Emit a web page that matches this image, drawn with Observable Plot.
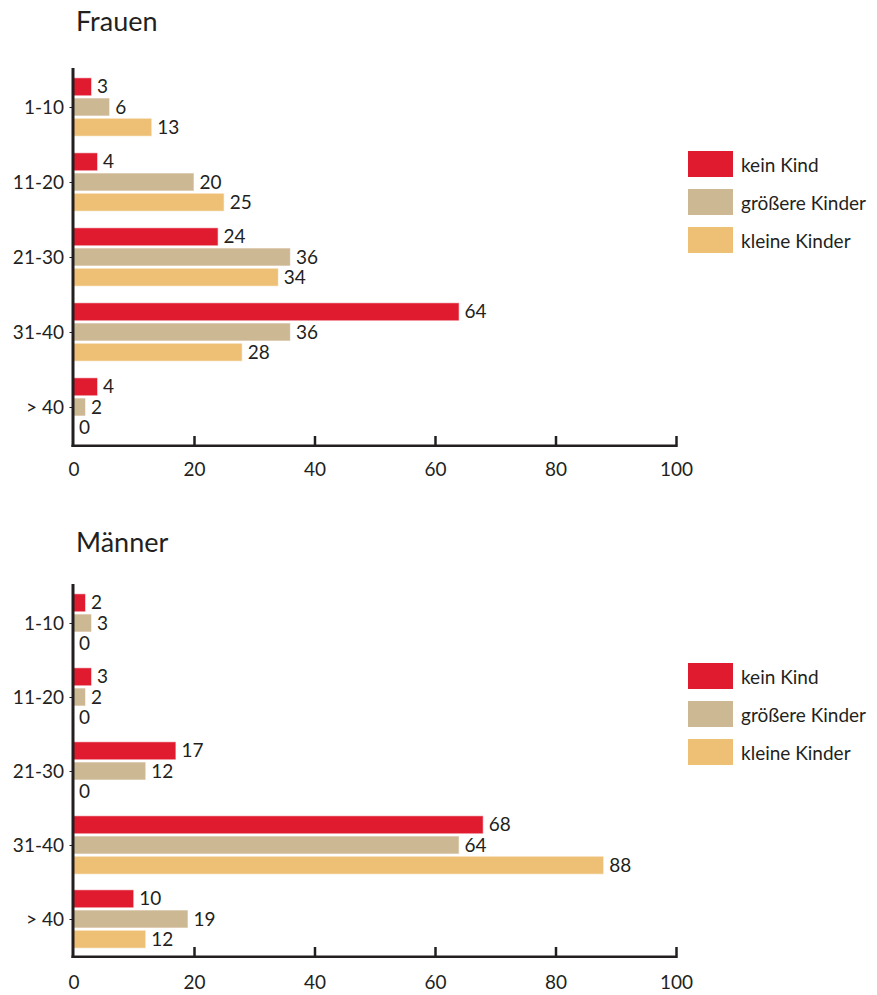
<!DOCTYPE html>
<html>
<head>
<meta charset="utf-8">
<script src="https://cdn.jsdelivr.net/npm/d3@7"></script>
<script src="https://cdn.jsdelivr.net/npm/@observablehq/plot@0.6"></script>
<style>
  body { margin: 0; background: #fff; font-family: Lato, "Open Sans", sans-serif; color: #231f20; }
  #page { position: relative; width: 877px; height: 995px; overflow: hidden; }
  .panel { position: absolute; left: 0; width: 877px; }
  .panel svg { display: block; }
  .title { position: absolute; left: 76px; font-size: 27px; line-height: 27px; white-space: nowrap; }
  .legend { position: absolute; left: 688px; }
  .item { display: flex; align-items: center; height: 26px; margin-bottom: 12px; }
  .sw { width: 45px; height: 26px; margin-right: 8px; flex: none; }
  .lab { font-size: 19px; white-space: nowrap; }
</style>
</head>
<body>
<div id="page"></div>
<script>
// Age groups (years) and child situation categories
const ages = ["1-10", "11-20", "21-30", "31-40", "> 40"];
const series = ["kein Kind", "größere Kinder", "kleine Kinder"];
const colors = ["#e01b2f", "#cdb894", "#eec076"];

// Frauen
const frauenKeinKind = [3, 4, 24, 64, 4];
const frauenGroessere = [6, 20, 36, 36, 2];
const frauenKleine = [13, 25, 34, 28, 0];

// Männer
const maennerKeinKind = [2, 3, 17, 68, 10];
const maennerGroessere = [3, 2, 12, 64, 19];
const maennerKleine = [0, 0, 0, 88, 12];

const xTicks = [0, 20, 40, 60, 80, 100];

const ink = "#231f20";
const barStep = 20.2;

function toRows(lists) {
  const rows = [];
  lists.forEach((vals, si) => vals.forEach((v, ai) => rows.push({ age: ages[ai], series: series[si], value: v })));
  return rows;
}

function chart(rows, height, marginTop, marginBottom, tickPadding) {
  const frameH = height - marginTop - marginBottom;
  const xDomain = [xTicks[0], xTicks[xTicks.length - 1]];
  return Plot.plot({
    width: 877,
    height,
    marginLeft: 73.5,
    marginRight: 201,
    marginTop,
    marginBottom,
    style: { fontFamily: "Lato, 'Open Sans', sans-serif", fontSize: "19px", color: ink, background: "transparent" },
    x: { domain: xDomain },
    y: { domain: ages, paddingInner: 0.754, paddingOuter: 0.377 },
    marks: [
      ...series.map((s, i) => Plot.barX(rows.filter(r => r.series === s), {
        x: "value", y: "age", fill: colors[i],
        stroke: "#fff", strokeWidth: 1, strokeOpacity: 0.6,
        dy: (i - 1) * barStep
      })),
      ...series.map((s, i) => Plot.text(rows.filter(r => r.series === s), {
        x: "value", y: "age", text: d => String(d.value),
        textAnchor: "start", dx: 5, dy: (i - 1) * barStep,
        fill: ink, fontSize: 19
      })),
      // inward tick marks on the value axis
      Plot.ruleX(xTicks.slice(1), { stroke: ink, strokeWidth: 2.5, insetTop: frameH - 11 }),
      // value axis baseline
      Plot.rect([xDomain], { x1: d => d[0], x2: d => d[1], fill: ink, insetTop: frameH - 2.5, insetLeft: -2 }),
      // category axis line
      Plot.ruleX([0], { stroke: ink, strokeWidth: 3, dx: -1 }),
      Plot.axisX({ ticks: xTicks, tickSize: 0, tickPadding, fontSize: 19, fill: ink, label: null }),
      Plot.axisY({ tickSize: 4, tickPadding: 6, fontSize: 19, fill: ink, stroke: ink, label: null })
    ]
  });
}

function panel({ title, lists, top, height, marginTop, marginBottom, tickPadding, titleTop, legendTop }) {
  const div = document.createElement("div");
  div.className = "panel";
  div.style.top = top + "px";
  div.style.height = height + "px";
  div.appendChild(chart(toRows(lists), height, marginTop, marginBottom, tickPadding));

  const t = document.createElement("div");
  t.className = "title";
  t.style.top = titleTop + "px";
  t.textContent = title;
  div.appendChild(t);

  const lg = document.createElement("div");
  lg.className = "legend";
  lg.style.top = legendTop + "px";
  series.forEach((s, i) => {
    const item = document.createElement("div");
    item.className = "item";
    const sw = document.createElement("div");
    sw.className = "sw";
    sw.style.background = colors[i];
    const lab = document.createElement("div");
    lab.className = "lab";
    lab.textContent = s;
    item.appendChild(sw);
    item.appendChild(lab);
    lg.appendChild(item);
  });
  div.appendChild(lg);
  return div;
}

const page = document.getElementById("page");
page.appendChild(panel({
  title: "Frauen",
  lists: [frauenKeinKind, frauenGroessere, frauenKleine],
  top: 0, height: 500, marginTop: 68, marginBottom: 53, tickPadding: 15,
  titleTop: 7, legendTop: 151
}));
page.appendChild(panel({
  title: "Männer",
  lists: [maennerKeinKind, maennerGroessere, maennerKleine],
  top: 500, height: 495, marginTop: 84, marginBottom: 37, tickPadding: 17,
  titleTop: 28, legendTop: 163
}));
</script>
</body>
</html>
